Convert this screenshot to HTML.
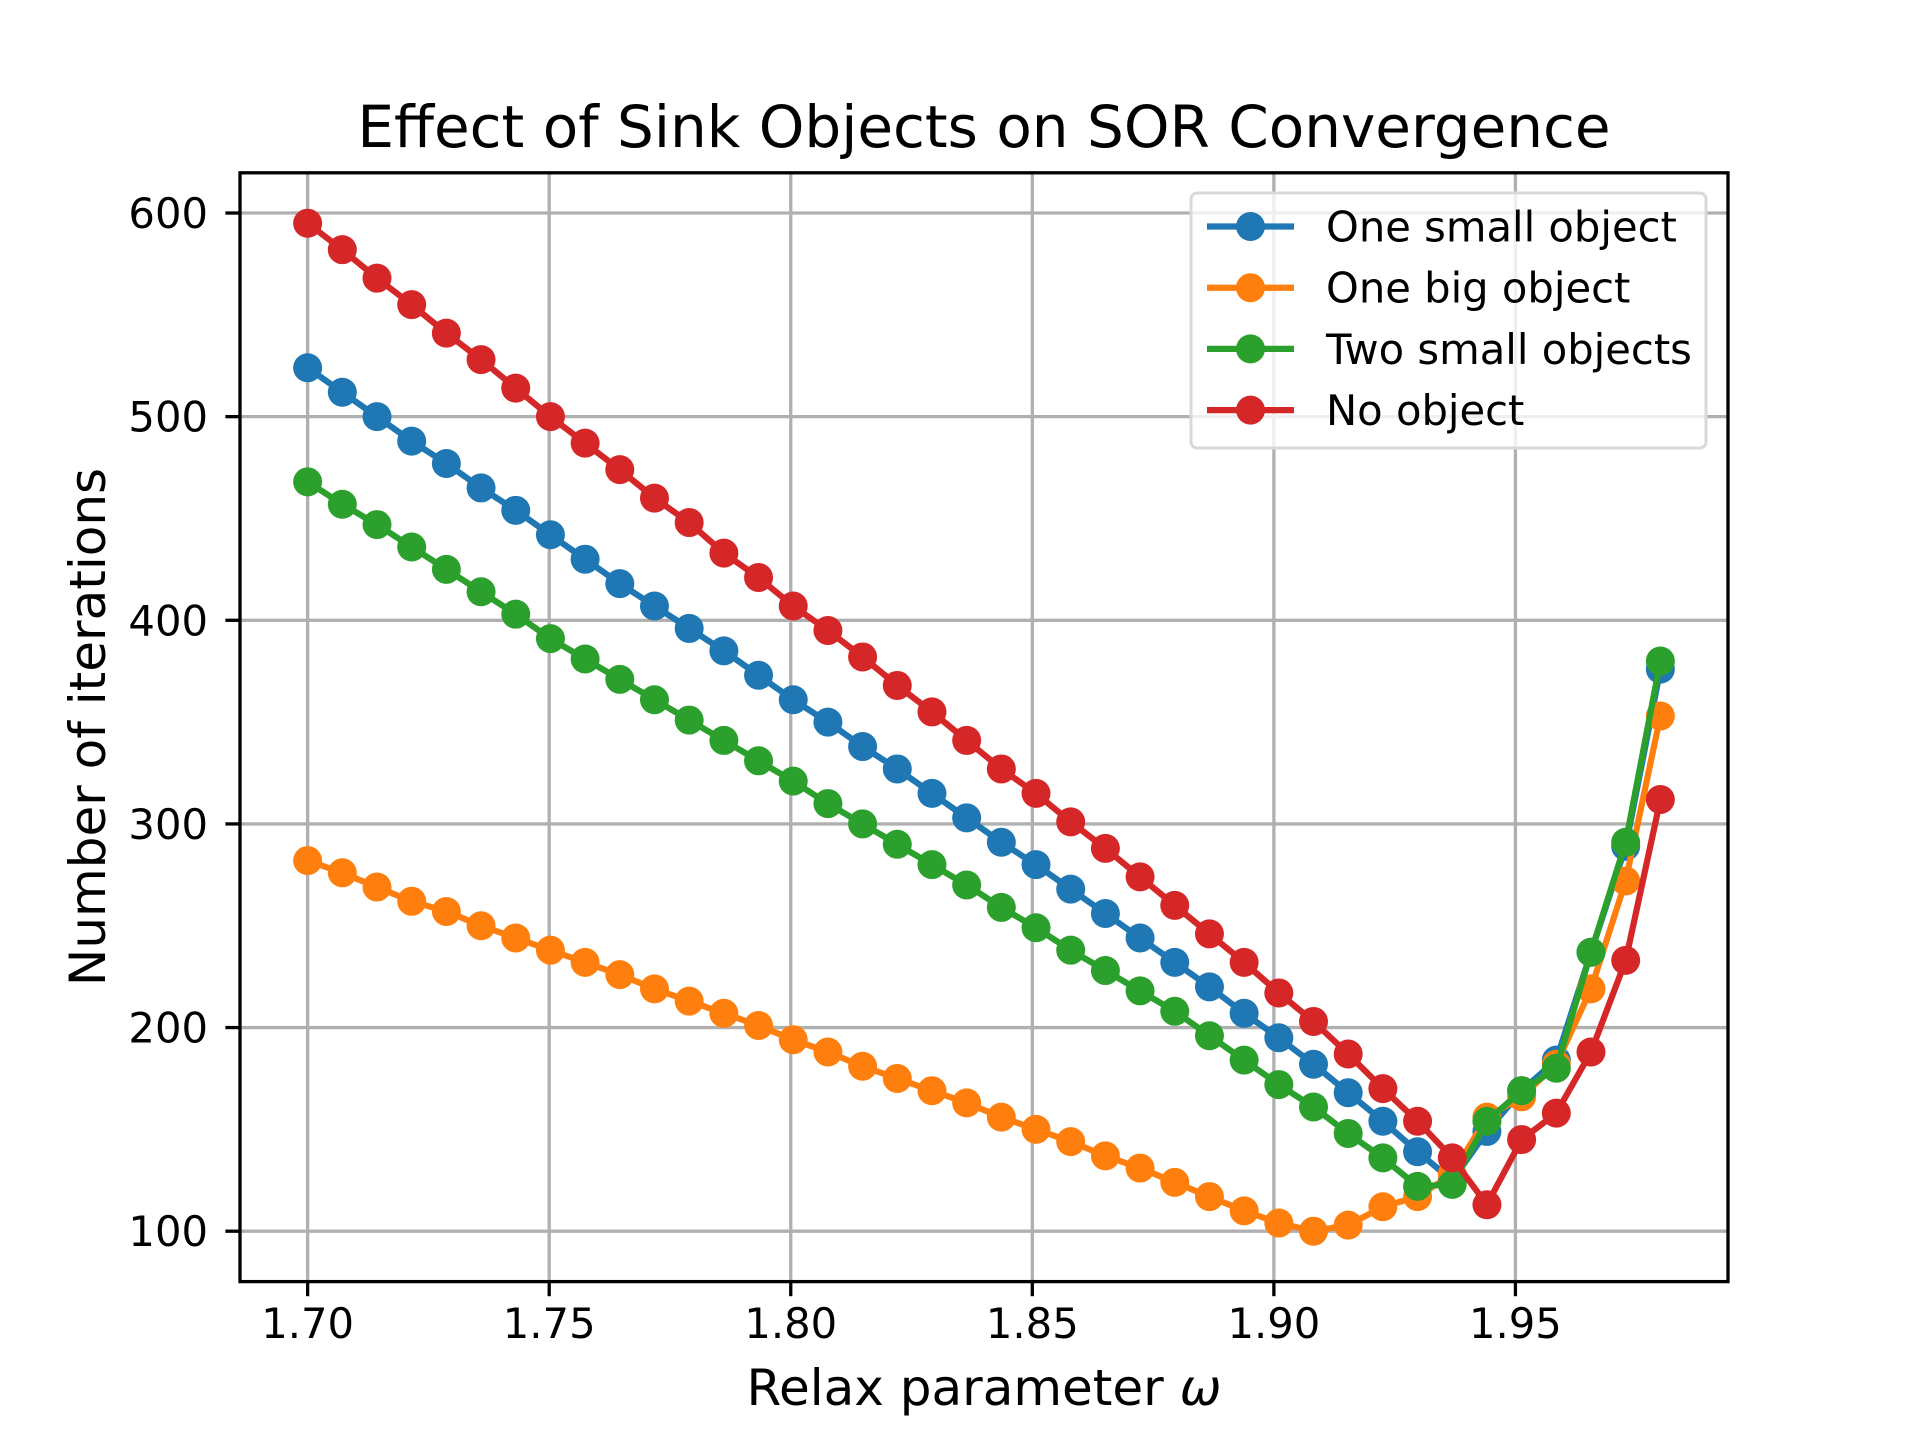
<!DOCTYPE html>
<html><head><meta charset="utf-8"><style>
html,body{margin:0;padding:0;background:#fff;}
svg{display:block;font-family:"DejaVu Sans","Liberation Sans",sans-serif;}
</style></head><body>
<svg id="chart" width="1920" height="1440" viewBox="0 0 1920 1440" xmlns="http://www.w3.org/2000/svg">
<rect width="1920" height="1440" fill="#fff"/>
<text x="984" y="147" font-size="58" text-anchor="middle">Effect of Sink Objects on SOR Convergence</text>
<g id="grid"></g>
<g id="series"></g>
<rect x="240" y="172.8" width="1488" height="1108.8" fill="none" stroke="#000" stroke-width="3.3"/>
<g id="ticks"></g>
<text x="984" y="1405" font-size="50" text-anchor="middle">Relax parameter <tspan font-style="italic">ω</tspan></text>
<text transform="translate(105,727) rotate(-90)" font-size="50" text-anchor="middle">Number of iterations</text>
<g id="legend"></g>
</svg>
<script>
const seriesNames = ["One small object","One big object","Two small objects","No object"];
const seriesColors = ["#1f77b4","#ff7f0e","#2ca02c","#d62728"];
const oneSmall = [524,512,500,488,477,465,454,442,430,418,407,396,385,373,361,350,338,327,315,303,291,280,268,256,244,232,220,207,195,182,168,154,139,125,149,169,184,237,289,376];
const oneBig = [282,276,269,262,257,250,244,238,232,226,219,213,207,201,194,188,181,175,169,163,156,150,144,137,131,124,117,110,104,100,103,112,117,128,156,166,182,219,272,353];
const twoSmall = [468,457,447,436,425,414,403,391,381,371,361,351,341,331,321,310,300,290,280,270,259,249,238,228,218,208,196,184,172,161,148,136,122,123,154,169,180,237,291,380];
const noObject = [595,582,568,555,541,528,514,500,487,474,460,448,433,421,407,395,382,368,355,341,327,315,301,288,274,260,246,232,217,203,187,170,154,136,113,145,158,188,233,312];
const xStart = 1.70, xEnd = 1.98, nPoints = 40;
const xTicks = [1.70,1.75,1.80,1.85,1.90,1.95];
const xTickLabels = ["1.70","1.75","1.80","1.85","1.90","1.95"];
const yTicks = [100,200,300,400,500,600];
const yTickLabels = ["100","200","300","400","500","600"];

const NS="http://www.w3.org/2000/svg";
const L=240,R=1728,T=172.8,B=1281.6,MR=14.5;
const allSeries=[oneSmall,oneBig,twoSmall,noObject];
const xs=[];for(let i=0;i<nPoints;i++)xs.push(xStart+(xEnd-xStart)*i/(nPoints-1));
let ymin=Infinity,ymax=-Infinity;allSeries.forEach(s=>s.forEach(v=>{ymin=Math.min(ymin,v);ymax=Math.max(ymax,v);}));
const xmg=(xEnd-xStart)*0.05, ymg=(ymax-ymin)*0.05;
const x0=xStart-xmg,x1=xEnd+xmg,y0=ymin-ymg,y1=ymax+ymg;
const sx=v=>L+(v-x0)/(x1-x0)*(R-L);
const sy=v=>B-(v-y0)/(y1-y0)*(B-T);
function mk(tag,attrs,parent){const e=document.createElementNS(NS,tag);for(const k in attrs)e.setAttribute(k,attrs[k]);parent.appendChild(e);return e;}
const grid=document.getElementById('grid'),ticks=document.getElementById('ticks'),ser=document.getElementById('series'),leg=document.getElementById('legend');
xTicks.forEach((t,i)=>{
  const x=sx(t);
  const g=mk('line',{x1:x,x2:x,y1:T,y2:B,stroke:'#b0b0b0','stroke-width':3.3},grid);
  
  
  const tk=mk('line',{x1:x,x2:x,y1:B,y2:B+14.6,stroke:'#000','stroke-width':3.3},ticks);
  
  
  const tx=mk('text',{x:x,y:1338,'font-size':41.7,'text-anchor':'middle'},ticks);
  tx.textContent=xTickLabels[i];
  
  
});
yTicks.forEach((t,i)=>{
  const y=sy(t);
  const g=mk('line',{x1:L,x2:R,y1:y,y2:y,stroke:'#b0b0b0','stroke-width':3.3},grid);
  
  
  const tk=mk('line',{x1:L-14.6,x2:L,y1:y,y2:y,stroke:'#000','stroke-width':3.3},ticks);
  
  
  const tx=mk('text',{x:208,y:y+15,'font-size':41.7,'text-anchor':'end'},ticks);
  tx.textContent=yTickLabels[i];
  
  
});
allSeries.forEach((s,si)=>{
  const g=mk('g',{},ser);
  
  
  const pts=s.map((v,i)=>sx(xs[i]).toFixed(1)+','+sy(v).toFixed(1)).join(' ');
  const pl=mk('polyline',{points:pts,fill:'none',stroke:seriesColors[si],'stroke-width':6.25,'stroke-linejoin':'round'},g);
  
  
  s.forEach((v,i)=>{
    const c=mk('circle',{cx:sx(xs[i]),cy:sy(v),r:MR,fill:seriesColors[si]},g);
    
    
  });
});
const lb=mk('rect',{x:1191,y:193,width:515,height:255,rx:6,fill:'#fff','fill-opacity':0.8,stroke:'#d9d9d9','stroke-width':3},leg);


seriesNames.forEach((n,i)=>{
  const y=226.5+i*61.2;
  const g=mk('g',{},leg);
  
  
  mk('line',{x1:1207,x2:1294,y1:y,y2:y,stroke:seriesColors[i],'stroke-width':6.25},g);
  mk('circle',{cx:1250.5,cy:y,r:MR,fill:seriesColors[i]},g);
  const t=mk('text',{x:1326,y:y+15,'font-size':41.7},g);
  t.textContent=n;
});
</script>
</body></html>
